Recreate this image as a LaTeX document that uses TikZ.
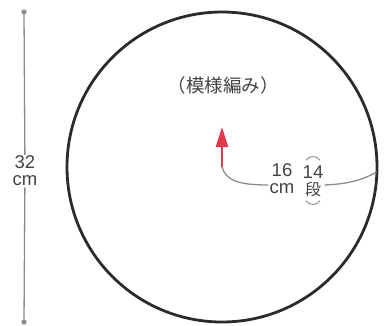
\documentclass[tikz,border=0pt]{standalone}
\usepackage{fontspec}
\setmainfont{Liberation Sans}
\newfontfamily\jpfont{Noto Sans CJK JP}
\usepackage{tikz}
\usetikzlibrary{arrows.meta}
\definecolor{redarrow}{HTML}{E23A4C}
\definecolor{dimgray}{HTML}{8C8C8C}
\definecolor{rimgray}{HTML}{2B2B2B}
\definecolor{txtgray}{HTML}{444444}

\begin{document}
\begin{tikzpicture}[x=1pt, y=-1pt,
    rim/.style={draw=rimgray, line width=2.8pt},
    dimline/.style={draw=dimgray, line width=1.3pt},
    lbl/.style={font=\fontsize{18.5}{17}\selectfont, text=txtgray, align=center, inner sep=1pt}]
    \useasboundingbox (0,0) rectangle (390,325);

    % circle and its centre
    \coordinate (c) at (222,167);
    \draw[rim] (c) circle[radius=155];

    % height on the left
    \coordinate (top) at (24,12);
    \coordinate (bot) at (24,322);
    \node[lbl] (len) at (25,171) {32\\cm};
    \draw[dimline] (top) -- (len);
    \draw[dimline] (len) -- (bot);
    \fill[dimgray] (top) circle[radius=2.6];
    \fill[dimgray] (bot) circle[radius=2.6];

    % title
    \node[lbl, font=\jpfont\fontsize{18.5}{18}\selectfont] (title) at (223,85) {（模様編み）};

    % knitting direction
    \coordinate (tip) at (222,127);
    \draw[redarrow, line width=2.6pt, -{Triangle[length=20pt,width=12pt]}] (c) -- (tip);

    % radius
    \node[lbl] (rad) at (282,179) {16\\cm};
    \node[lbl] (rows) at (313,181) {14\\{\jpfont\fontsize{16}{17}\selectfont 段}};
    \coordinate (rim) at (376.5,172);
    \draw[dimline] (c) .. controls (226,181) and (240,185) .. ([yshift=-6pt]rad.west);
    \draw[dimline] ([yshift=-4pt]rows.east) .. controls (352,184) and (366,178) .. (rim);
    \draw[dimgray, line width=0.9pt] ([xshift=-7pt,yshift=4pt]rows.north) .. controls ([xshift=-4pt,yshift=9pt]rows.north) and ([xshift=4pt,yshift=9pt]rows.north) .. ([xshift=7pt,yshift=4pt]rows.north);
    \draw[dimgray, line width=0.9pt] ([xshift=-7pt,yshift=-3pt]rows.south) .. controls ([xshift=-4pt,yshift=-8pt]rows.south) and ([xshift=4pt,yshift=-8pt]rows.south) .. ([xshift=7pt,yshift=-3pt]rows.south);
\end{tikzpicture}
\end{document}
